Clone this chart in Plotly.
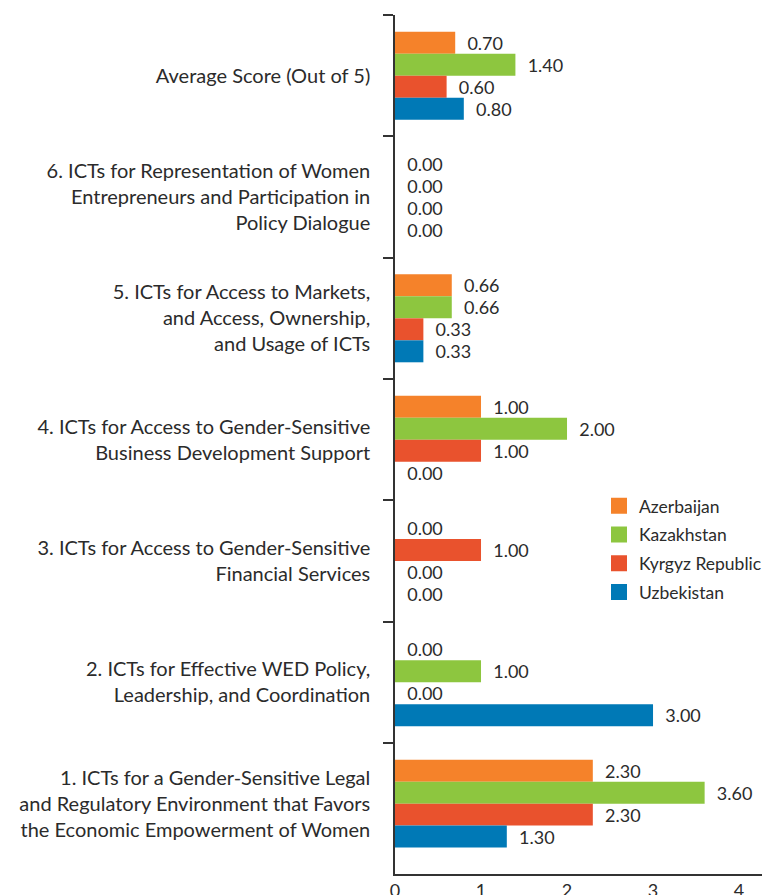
import plotly.graph_objects as go

categories = [
    "Average Score (Out of 5)",
    "6. ICTs for Representation of Women<br>Entrepreneurs and Participation in<br>Policy Dialogue",
    "5. ICTs for Access to Markets,<br>and Access, Ownership,<br>and Usage of ICTs",
    "4. ICTs for Access to Gender-Sensitive<br>Business Development Support",
    "3. ICTs for Access to Gender-Sensitive<br>Financial Services",
    "2. ICTs for Effective WED Policy,<br>Leadership, and Coordination",
    "1. ICTs for a Gender-Sensitive Legal<br>and Regulatory Environment that Favors<br>the Economic Empowerment of Women",
]

azerbaijan = [0.70, 0.00, 0.66, 1.00, 0.00, 0.00, 2.30]
kazakhstan = [1.40, 0.00, 0.66, 2.00, 1.00, 1.00, 3.60]
kyrgyz = [0.60, 0.00, 0.33, 1.00, 0.00, 0.00, 2.30]
uzbekistan = [0.80, 0.00, 0.33, 0.00, 0.00, 3.00, 1.30]

x_ticks = [0, 1, 2, 3, 4]

series = [
    ("Azerbaijan", azerbaijan, "#F5822A"),
    ("Kazakhstan", kazakhstan, "#8DC63F"),
    ("Kyrgyz Republic", kyrgyz, "#E9522D"),
    ("Uzbekistan", uzbekistan, "#0079B6"),
]

FONT = "Lato"
TXT = "#2b2b2b"

fig = go.Figure()
for name, vals, color in series:
    colors = [color] * len(vals)
    if name == "Kazakhstan":
        colors[4] = "#E9522D"  # the reference draws this bar in red
    fig.add_trace(go.Bar(
        y=categories, x=vals, name=name, orientation="h",
        marker=dict(color=colors, line=dict(width=0)),
        text=[f"\u00a0\u00a0{v:.2f}" for v in vals],
        textposition="outside", cliponaxis=False,
        textfont=dict(family=FONT, size=18, color=TXT),
        showlegend=False,
    ))
for name, vals, color in series:
    fig.add_trace(go.Scatter(
        x=[None], y=[None], mode="markers", name=name,
        marker=dict(symbol="square", size=16, color=color),
        legendgroup=name,
    ))

# the page's body has an 8px margin, so the figure is drawn 8px lower and further right
fig.update_layout(
    width=762, height=895,
    margin=dict(l=387, r=0, t=7, b=29, autoexpand=False),
    paper_bgcolor="white", plot_bgcolor="white",
    barmode="group", bargap=0.275, bargroupgap=0,
    font=dict(family=FONT, color=TXT),
    legend=dict(x=0.544, y=0.4495, xanchor="left", yanchor="top",
                font=dict(family=FONT, size=17.5, color=TXT),
                bgcolor="rgba(0,0,0,0)", tracegroupgap=3),
)
fig.update_yaxes(
    type="category", categoryorder="array", categoryarray=categories,
    range=[6.58, -0.5], showgrid=False, zeroline=False, automargin=False,
    showline=True, linecolor="#333333", linewidth=1.5,
    ticks="outside", tickson="boundaries", ticklen=10, tickcolor="#333333", tickwidth=1.5,
    tickfont=dict(family=FONT, size=20, color=TXT), ticklabelstandoff=19,
)
fig.update_xaxes(
    range=[0, 4.36], tickvals=x_ticks, showgrid=False, zeroline=False, automargin=False,
    showline=True, linecolor="#333333", linewidth=1.5, ticks="",
    tickfont=dict(family=FONT, size=18, color=TXT),
)

fig.write_html("out.html")
